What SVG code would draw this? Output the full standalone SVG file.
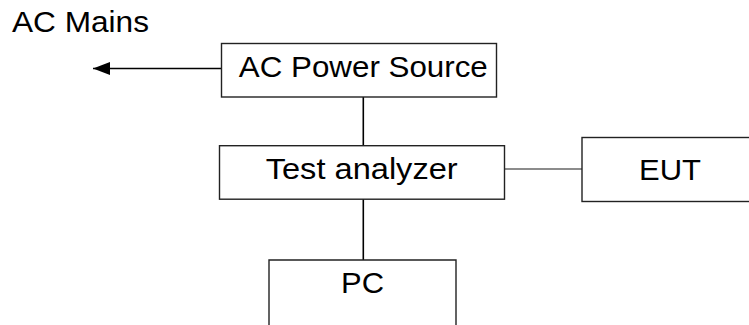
<svg xmlns="http://www.w3.org/2000/svg" width="749" height="325" viewBox="0 0 749 325">
<style>
.box{fill:#fff;stroke:#222;stroke-width:1.4}
.t{font-family:"Liberation Sans",Arial,sans-serif;font-size:30px;fill:#000}
.c{stroke:#000;stroke-width:1.6;fill:none}
.g{stroke:#666;stroke-width:1.6;fill:none}
</style>
<defs>
<marker id="ah" markerWidth="17" markerHeight="13" refX="17" refY="6.5" orient="auto" markerUnits="userSpaceOnUse">
<path d="M0,0 L17,6.5 L0,13 z" fill="#000"/>
</marker>
</defs>
<rect width="749" height="325" fill="#fff"/>
<g id="connectors">
<line class="c" x1="221" y1="68.5" x2="93" y2="68.5" stroke-width="2" marker-end="url(#ah)"/>
<line class="c" x1="363.3" y1="97" x2="363.3" y2="146"/>
<line class="g" x1="505" y1="169" x2="582" y2="169"/>
<line class="c" x1="363.3" y1="199" x2="363.3" y2="260"/>
</g>
<g id="ac-mains">
<text class="t" x="12" y="31.7" textLength="137" lengthAdjust="spacingAndGlyphs">AC Mains</text>
</g>
<g id="ac-power-source">
<rect class="box" x="221.5" y="43.5" width="275" height="53.5"/>
<text class="t" x="363.3" y="77" text-anchor="middle" textLength="249" lengthAdjust="spacingAndGlyphs">AC Power Source</text>
</g>
<g id="test-analyzer">
<rect class="box" x="219.5" y="145.7" width="285" height="53.5"/>
<text class="t" x="361.7" y="179" text-anchor="middle" textLength="192" lengthAdjust="spacingAndGlyphs">Test analyzer</text>
</g>
<g id="eut">
<rect class="box" x="582" y="137.5" width="200" height="64"/>
<text class="t" x="670" y="179.5" text-anchor="middle" textLength="62" lengthAdjust="spacingAndGlyphs">EUT</text>
</g>
<g id="pc">
<path class="box" d="M269,330 V260 H456 V330"/>
<text class="t" x="362.5" y="292.7" text-anchor="middle" textLength="43" lengthAdjust="spacingAndGlyphs">PC</text>
</g>
</svg>
